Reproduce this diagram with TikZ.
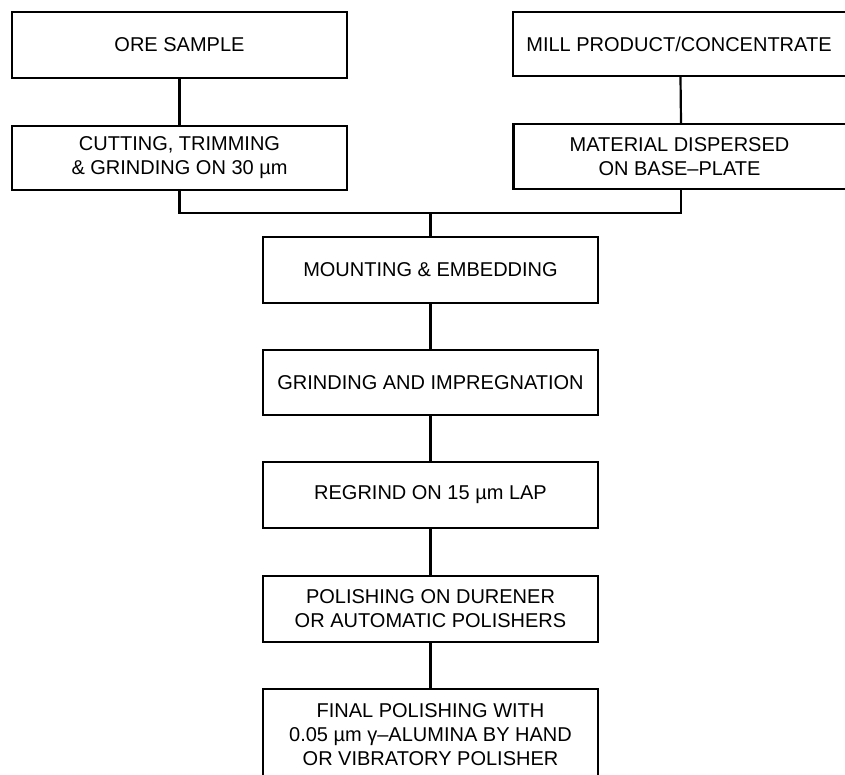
\documentclass[tikz,border=0pt]{standalone}
\usepackage{fontspec}
\setmainfont{Liberation Sans}
\begin{document}
\begin{tikzpicture}[x=1pt,y=-1pt,
  stepbox/.style={draw=black,line width=2.2pt,minimum width=335pt,inner sep=0pt,align=center,
    font=\fontsize{20}{24}\selectfont},
  conn/.style={draw=black,line width=2.2pt}]
\useasboundingbox (0,0) rectangle (845,775);
\clip (0,0) rectangle (845,775);
\fill[white] (0,0) rectangle (845,775);
\node[stepbox,minimum height=66pt] (ore) at (179.5,45) {ORE SAMPLE};
\node[stepbox,minimum height=64pt] (mill) at (680.5,44) {\hspace*{-3pt}MILL PRODUCT/CONCENTRATE};
\node[stepbox,minimum height=64pt] (cut) at (179.5,158) {CUTTING, TRIMMING\\\& GRINDING ON 30 µm};
\node[stepbox,minimum height=65pt] (mat) at (681,156.5) {\hspace*{-3pt}MATERIAL DISPERSED\\\hspace*{-3pt}ON BASE–PLATE};
\node[stepbox,minimum height=66pt] (mount) at (430.5,270) {MOUNTING \& EMBEDDING};
\node[stepbox,minimum height=65pt] (grind) at (430.5,382.5) {GRINDING AND IMPREGNATION};
\node[stepbox,minimum height=66pt] (regrind) at (430.5,495) {REGRIND ON 15 µm LAP};
\node[stepbox,minimum height=66pt] (polish) at (430.5,609) {POLISHING ON DURENER\\OR AUTOMATIC POLISHERS};
\node[stepbox,minimum height=91pt] (final) at (430.5,734.5) {FINAL POLISHING WITH\\0.05 µm γ–ALUMINA BY HAND\\OR VIBRATORY POLISHER};
\coordinate (j) at (430.5,213);
\draw[conn] (ore.south) -- (cut.north);
\draw[conn] (mill.south) -- (mat.north);
\draw[conn] (cut.south) |- (j);
\draw[conn] (mat.south) |- (j);
\draw[conn] (j) -- (mount.north);
\draw[conn] (mount.south) -- (grind.north);
\draw[conn] (grind.south) -- (regrind.north);
\draw[conn] (regrind.south) -- (polish.north);
\draw[conn] (polish.south) -- (final.north);
\end{tikzpicture}
\end{document}
